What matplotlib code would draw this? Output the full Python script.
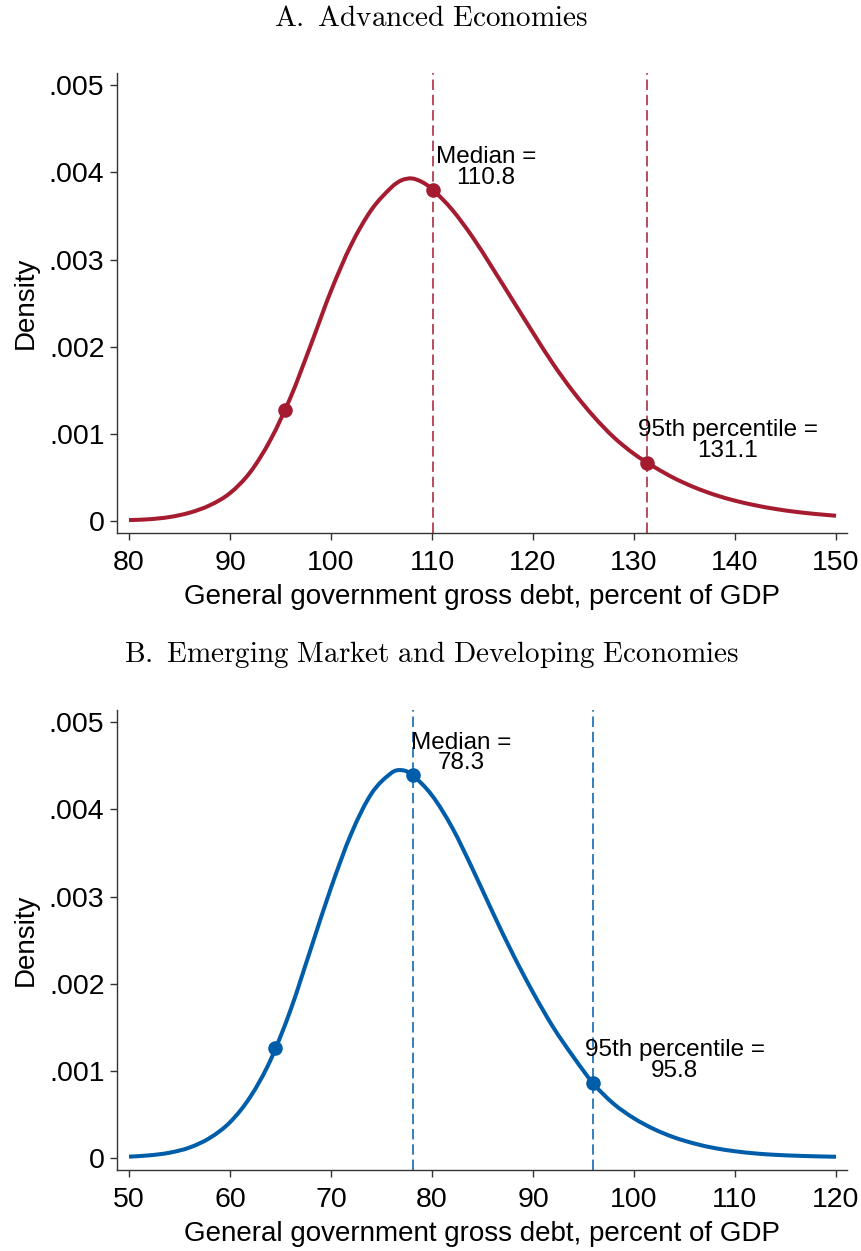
import matplotlib
matplotlib.use("Agg")
import matplotlib.pyplot as plt
from matplotlib.path import Path
from matplotlib.patches import PathPatch

plt.rcParams["font.family"] = ["Liberation Sans", "DejaVu Sans"]
plt.rcParams["mathtext.fontset"] = "cm"
plt.rcParams["lines.scale_dashes"] = False

# --- Panel A: advanced economies ---
ae_debt = [80, 82, 84, 86, 88, 90, 92, 94, 96, 98, 100, 102, 104, 106, 107, 108, 109,
           110, 112, 114, 116, 118, 120, 122, 124, 126, 128, 130, 132, 134, 136, 138,
           140, 142, 144, 146, 148, 150]
ae_density = [0.00001, 0.00002, 0.000045, 0.000095, 0.00018, 0.00032, 0.00056, 0.00093,
              0.00142, 0.00202, 0.00264, 0.00317, 0.00357, 0.00383, 0.00391, 0.00393, 0.00389,
              0.00381, 0.00357, 0.00326, 0.00290, 0.00253, 0.00216, 0.00180, 0.00148, 0.00120,
              0.00096, 0.00077, 0.00062, 0.00049, 0.000385, 0.00030, 0.000233, 0.00018,
              0.000138, 0.000105, 0.00008, 0.00006]
ae_mark_x = [95.4, 110.1, 131.3]
ae_mark_y = [0.00127, 0.00380, 0.000665]
ae_lines = [110.1, 131.3]
ae_labels = ["Median =\n110.8", "95th percentile =\n131.1"]
ae_xticks = [80, 90, 100, 110, 120, 130, 140, 150]

# --- Panel B: emerging market and developing economies ---
em_debt = [50, 52, 54, 56, 58, 60, 62, 64, 66, 68, 70, 72, 74, 76, 77, 78, 80, 82,
           84, 86, 88, 90, 92, 94, 96, 98, 100, 102, 104, 106, 108, 110, 112, 114, 116, 118, 120]
em_density = [0.000015, 0.00003, 0.00006, 0.00012, 0.00023, 0.00041, 0.00070, 0.00112,
              0.00170, 0.00240, 0.00310, 0.00372, 0.00418, 0.00442, 0.00445, 0.00440,
              0.00416, 0.00379, 0.00332, 0.00282, 0.00234, 0.00190, 0.00150, 0.00116,
              0.00085, 0.00062, 0.000455, 0.00033, 0.000235, 0.000165, 0.000113, 0.000077,
              0.000052, 0.000036, 0.000026, 0.000019, 0.000014]
em_mark_x = [64.5, 78.1, 95.9]
em_mark_y = [0.00126, 0.00439, 0.00086]
em_lines = [78.1, 95.9]
em_labels = ["Median =\n78.3", "95th percentile =\n95.8"]
em_xticks = [50, 60, 70, 80, 90, 100, 110, 120]

yticks = [0, 0.001, 0.002, 0.003, 0.004, 0.005]
yticklabels = ["0", ".001", ".002", ".003", ".004", ".005"]

RED = "#A51C30"
BLUE = "#005DAA"
W, H = 862, 1251

fig = plt.figure(figsize=(W / 100, H / 100), dpi=100)


def add_axes_px(left, top, right, bottom):
    return fig.add_axes([left / W, 1 - bottom / H, (right - left) / W, (bottom - top) / H])


def smooth_path(xs, ys):
    # cubic bezier segments through the read points (drawn smooth, points unchanged)
    n = len(xs)
    slopes = []
    for i in range(n):
        a, b = max(i - 1, 0), min(i + 1, n - 1)
        slopes.append((ys[b] - ys[a]) / (xs[b] - xs[a]))
    verts = [(xs[0], ys[0])]
    codes = [Path.MOVETO]
    for i in range(n - 1):
        h = (xs[i + 1] - xs[i]) / 3
        verts += [(xs[i] + h, ys[i] + slopes[i] * h),
                  (xs[i + 1] - h, ys[i + 1] - slopes[i + 1] * h),
                  (xs[i + 1], ys[i + 1])]
        codes += [Path.CURVE4] * 3
    return Path(verts, codes)


def draw_panel(ax, debt, dens, mx, my, vlines, labels, xticks, color, label_offsets):
    for xv in vlines:
        ax.axvline(xv, color=color, lw=1.3, alpha=0.85, dashes=(7.5, 3.5), zorder=1)
    ax.add_patch(PathPatch(smooth_path(debt, dens), fill=False, ec=color, lw=2.9,
                           capstyle="butt", zorder=2))
    ax.plot(mx, my, "o", color=color, ms=10.5, mec="none", zorder=3)
    for i, txt in enumerate(labels):
        ax.annotate(txt, (mx[i + 1], my[i + 1]), xytext=label_offsets[i],
                    textcoords="offset points", ha="center", va="center",
                    multialignment="center", fontsize=17.5, linespacing=0.92)

    step = xticks[1] - xticks[0]
    ax.set_xlim(xticks[0] - 0.119 * step, xticks[-1] + 0.109 * step)
    ax.set_ylim(-0.000138, 0.00514)
    ax.set_xticks(xticks)
    ax.set_yticks(yticks)
    ax.set_yticklabels(yticklabels)
    ax.spines["top"].set_visible(False)
    ax.spines["right"].set_visible(False)
    for s in ("left", "bottom"):
        ax.spines[s].set_linewidth(1.0)
        ax.spines[s].set_color("#333333")
    ax.tick_params(axis="both", direction="out", length=5, width=1.0, color="#333333",
                   labelsize=20.5)
    ax.tick_params(axis="x", pad=7)
    ax.tick_params(axis="y", pad=4)
    ax.set_xlabel("General government gross debt, percent of GDP", fontsize=20, labelpad=6)
    ax.set_ylabel("Density", fontsize=20, labelpad=7)


ax_a = add_axes_px(117, 73, 847, 533)
draw_panel(ax_a, ae_debt, ae_density, ae_mark_x, ae_mark_y, ae_lines, ae_labels,
           ae_xticks, RED, [(38, 16), (58, 16)])

ax_b = add_axes_px(117, 710, 847, 1170)
draw_panel(ax_b, em_debt, em_density, em_mark_x, em_mark_y, em_lines, em_labels,
           em_xticks, BLUE, [(35, 16), (59, 16)])

fig.text(0.5, 1 - 18 / H, r"$\mathrm{A.\ Advanced\ Economies}$", ha="center", va="center",
         fontsize=21)
fig.text(0.5, 1 - 655 / H, r"$\mathrm{B.\ Emerging\ Market\ and\ Developing\ Economies}$",
         ha="center", va="center", fontsize=21)

fig.savefig("out.png", dpi=100)
